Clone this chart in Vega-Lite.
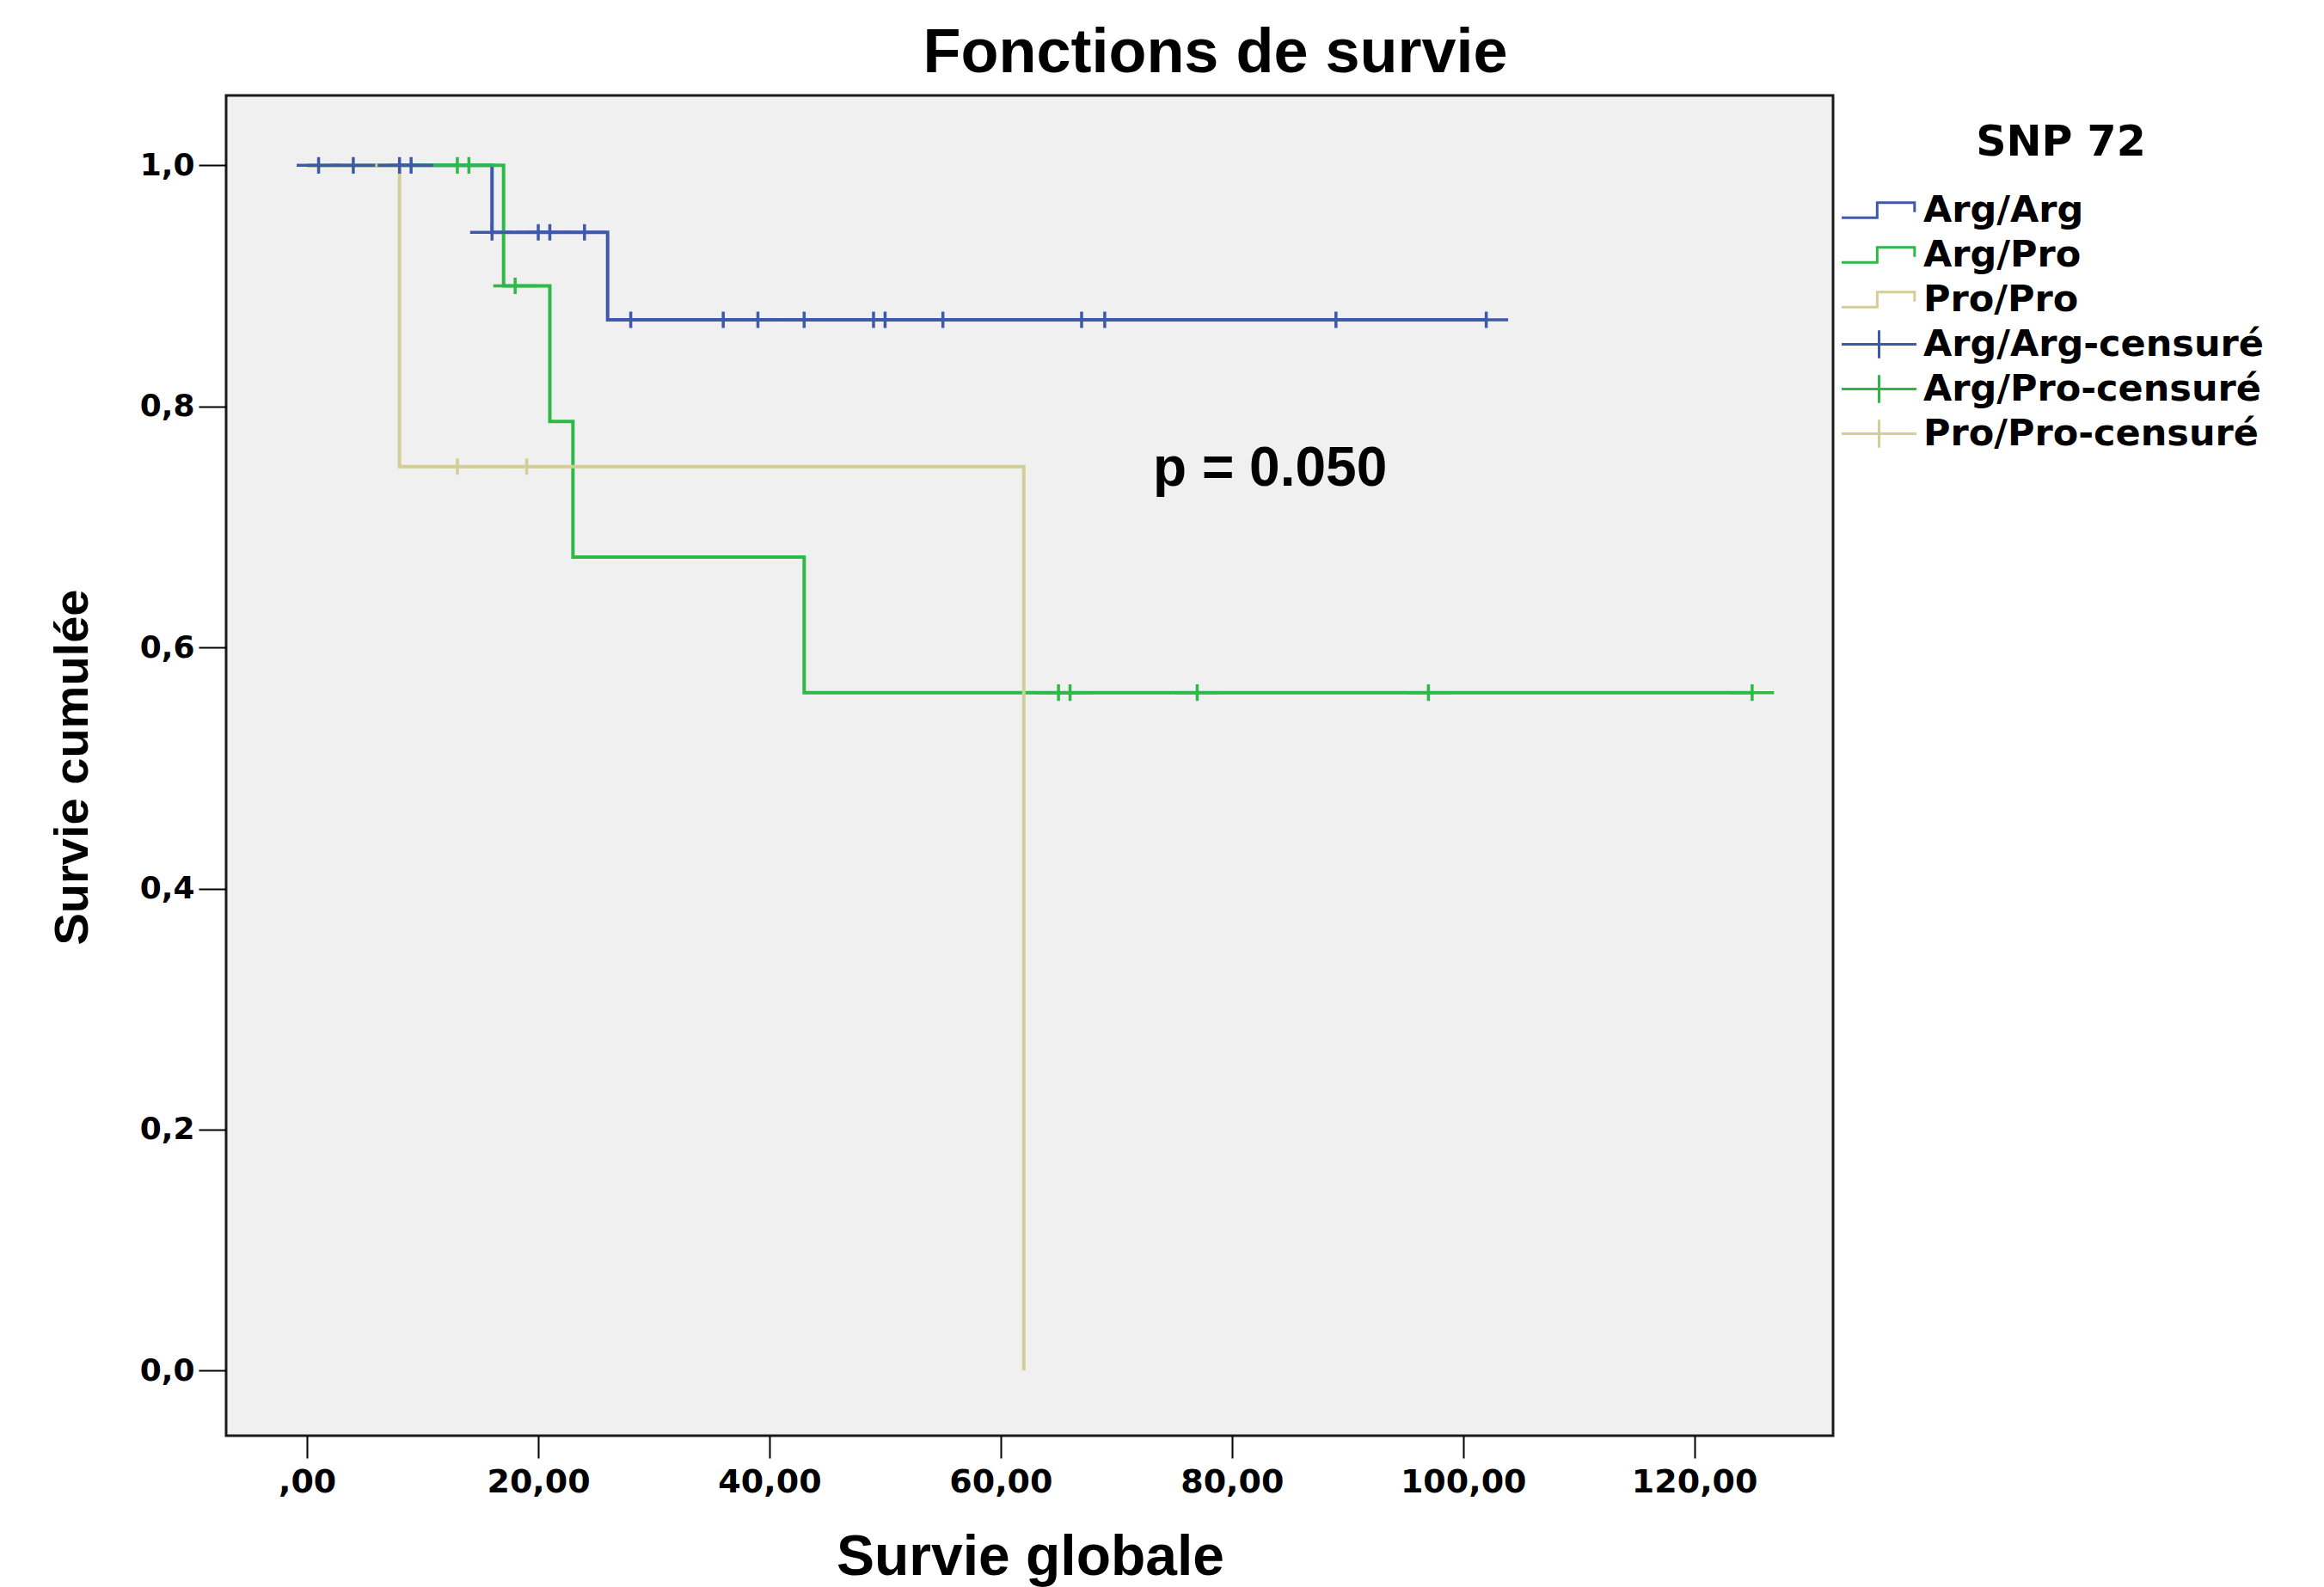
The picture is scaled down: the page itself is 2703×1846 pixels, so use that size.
{
  "$schema": "https://vega.github.io/schema/vega-lite/v6.json",
  "width": 1869,
  "height": 1559,
  "autosize": {"type": "none"},
  "padding": {"left": 263, "top": 111, "right": 571, "bottom": 176},
  "background": "white",
  "title": {
    "text": "Fonctions de survie",
    "font": "Liberation Sans",
    "fontSize": 72,
    "fontWeight": "bold",
    "color": "black",
    "anchor": "middle",
    "frame": "group",
    "dx": 216,
    "dy": 70,
    "baseline": "alphabetic",
    "offset": 25
  },
  "datasets": {
    "curves": [
      {"legend": "Arg/Arg", "t": 0, "s": 1},
      {"legend": "Arg/Arg", "t": 16, "s": 0.9444},
      {"legend": "Arg/Arg", "t": 26, "s": 0.8718},
      {"legend": "Arg/Arg", "t": 102, "s": 0.8718},
      {"legend": "Arg/Pro", "t": 0, "s": 1},
      {"legend": "Arg/Pro", "t": 17, "s": 0.9},
      {"legend": "Arg/Pro", "t": 21, "s": 0.7875},
      {"legend": "Arg/Pro", "t": 23, "s": 0.675},
      {"legend": "Arg/Pro", "t": 43, "s": 0.5625},
      {"legend": "Arg/Pro", "t": 125, "s": 0.5625},
      {"legend": "Pro/Pro", "t": 0, "s": 1},
      {"legend": "Pro/Pro", "t": 8, "s": 0.75},
      {"legend": "Pro/Pro", "t": 62, "s": 0}
    ],
    "censors": [
      {"legend": "Arg/Arg-censuré", "t": 1, "s": 1},
      {"legend": "Arg/Arg-censuré", "t": 4, "s": 1},
      {"legend": "Arg/Arg-censuré", "t": 8, "s": 1},
      {"legend": "Arg/Arg-censuré", "t": 9, "s": 1},
      {"legend": "Arg/Arg-censuré", "t": 16, "s": 0.9444},
      {"legend": "Arg/Arg-censuré", "t": 20, "s": 0.9444},
      {"legend": "Arg/Arg-censuré", "t": 21, "s": 0.9444},
      {"legend": "Arg/Arg-censuré", "t": 24, "s": 0.9444},
      {"legend": "Arg/Arg-censuré", "t": 28, "s": 0.8718},
      {"legend": "Arg/Arg-censuré", "t": 36, "s": 0.8718},
      {"legend": "Arg/Arg-censuré", "t": 39, "s": 0.8718},
      {"legend": "Arg/Arg-censuré", "t": 43, "s": 0.8718},
      {"legend": "Arg/Arg-censuré", "t": 49, "s": 0.8718},
      {"legend": "Arg/Arg-censuré", "t": 50, "s": 0.8718},
      {"legend": "Arg/Arg-censuré", "t": 55, "s": 0.8718},
      {"legend": "Arg/Arg-censuré", "t": 67, "s": 0.8718},
      {"legend": "Arg/Arg-censuré", "t": 69, "s": 0.8718},
      {"legend": "Arg/Arg-censuré", "t": 89, "s": 0.8718},
      {"legend": "Arg/Arg-censuré", "t": 102, "s": 0.8718},
      {"legend": "Arg/Pro-censuré", "t": 13, "s": 1},
      {"legend": "Arg/Pro-censuré", "t": 14, "s": 1},
      {"legend": "Arg/Pro-censuré", "t": 18, "s": 0.9},
      {"legend": "Arg/Pro-censuré", "t": 65, "s": 0.5625},
      {"legend": "Arg/Pro-censuré", "t": 66, "s": 0.5625},
      {"legend": "Arg/Pro-censuré", "t": 77, "s": 0.5625},
      {"legend": "Arg/Pro-censuré", "t": 97, "s": 0.5625},
      {"legend": "Arg/Pro-censuré", "t": 125, "s": 0.5625},
      {"legend": "Pro/Pro-censuré", "t": 13, "s": 0.75},
      {"legend": "Pro/Pro-censuré", "t": 19, "s": 0.75}
    ]
  },
  "layer": [
    {
      "data": {"name": "curves"},
      "mark": {"type": "line", "interpolate": "step-after", "strokeWidth": 4},
      "encoding": {
        "x": {
          "field": "t",
          "type": "quantitative",
          "scale": {"domain": [-7, 132], "nice": false, "zero": false},
          "axis": {
            "values": [0, 20, 40, 60, 80, 100, 120],
            "labelExpr": "datum.value == 0 ? ',00' : format(datum.value, 'd') + ',00'",
            "title": "Survie globale",
            "tickSize": 26,
            "labelPadding": 9,
            "labelFont": "DejaVu Sans",
            "labelFontSize": 38,
            "labelFontWeight": "bold",
            "titleX": 935,
            "titleY": 161,
            "titleAlign": "center",
            "titleBaseline": "alphabetic",
            "titleFont": "Liberation Sans",
            "titleFontSize": 66,
            "titleFontWeight": "bold"
          }
        },
        "y": {
          "field": "s",
          "type": "quantitative",
          "scale": {"domain": [-0.054, 1.058], "nice": false, "zero": false},
          "axis": {
            "values": [0, 0.2, 0.4, 0.6, 0.8, 1],
            "labelExpr": "replace(format(datum.value, '.1f'), '.', ',')",
            "title": "Survie cumulée",
            "tickSize": 32,
            "labelPadding": 5,
            "labelFont": "DejaVu Sans",
            "labelFontSize": 36,
            "labelFontWeight": "bold",
            "titleX": -162,
            "titleY": 781,
            "titleAngle": 270,
            "titleAlign": "center",
            "titleBaseline": "alphabetic",
            "titleFont": "Liberation Sans",
            "titleFontSize": 56,
            "titleFontWeight": "bold"
          }
        },
        "color": {
          "field": "legend",
          "type": "nominal",
          "scale": {
            "domain": ["Arg/Arg", "Arg/Pro", "Pro/Pro", "Arg/Arg-censuré", "Arg/Pro-censuré", "Pro/Pro-censuré"],
            "range": ["#3e58ac", "#2eb848", "#d3ce97", "#3e58ac", "#2eb848", "#d3ce97"]
          },
          "legend": {"title": "SNP 72"}
        }
      }
    },
    {
      "data": {"name": "censors"},
      "mark": {"type": "point", "filled": false, "size": 650, "strokeWidth": 3.5, "opacity": 1},
      "encoding": {
        "x": {"field": "t", "type": "quantitative"},
        "y": {"field": "s", "type": "quantitative"},
        "color": {
          "field": "legend",
          "type": "nominal",
          "scale": {
            "domain": ["Arg/Arg", "Arg/Pro", "Pro/Pro", "Arg/Arg-censuré", "Arg/Pro-censuré", "Pro/Pro-censuré"],
            "range": ["#3e58ac", "#2eb848", "#d3ce97", "#3e58ac", "#2eb848", "#d3ce97"]
          },
          "legend": {"title": "SNP 72"}
        },
        "shape": {
          "field": "legend",
          "type": "nominal",
          "scale": {
            "domain": ["Arg/Arg", "Arg/Pro", "Pro/Pro", "Arg/Arg-censuré", "Arg/Pro-censuré", "Pro/Pro-censuré"],
            "range": [
              "M-2,0.4H-0.1V-0.4H1.9V0.1",
              "M-2,0.4H-0.1V-0.4H1.9V0.1",
              "M-2,0.4H-0.1V-0.4H1.9V0.1",
              "M-2,0H2M0,-0.75V0.75",
              "M-2,0H2M0,-0.75V0.75",
              "M-2,0H2M0,-0.75V0.75"
            ]
          },
          "legend": {"title": "SNP 72"}
        }
      }
    },
    {
      "data": {"values": [{"label": "p = 0.050"}]},
      "mark": {"type": "text", "font": "Liberation Sans", "fontSize": 64, "fontWeight": "bold", "align": "center", "baseline": "middle", "color": "black"},
      "encoding": {
        "x": {"datum": 83.3, "type": "quantitative"},
        "y": {"datum": 0.7475, "type": "quantitative"},
        "text": {"field": "label", "type": "nominal"}
      }
    }
  ],
  "config": {
    "view": {"stroke": "#1a1a1a", "strokeWidth": 3, "fill": "#f0f0f0"},
    "axis": {
      "domain": false,
      "grid": false,
      "ticks": true,
      "tickColor": "black",
      "tickWidth": 2,
      "labelColor": "black",
      "titleColor": "black"
    },
    "legend": {
      "orient": "none",
      "legendX": 1899,
      "legendY": 31,
      "direction": "vertical",
      "padding": 0,
      "titleFont": "DejaVu Sans",
      "titleFontSize": 49,
      "titleFontWeight": "bold",
      "titleColor": "black",
      "titleAnchor": "middle",
      "titleLimit": 1000,
      "titlePadding": 30,
      "labelFont": "DejaVu Sans",
      "labelFontSize": 43,
      "labelFontWeight": "bold",
      "labelColor": "black",
      "labelLimit": 0,
      "labelOffset": 28,
      "symbolSize": 1892,
      "symbolStrokeWidth": 3,
      "rowPadding": 6
    }
  }
}
